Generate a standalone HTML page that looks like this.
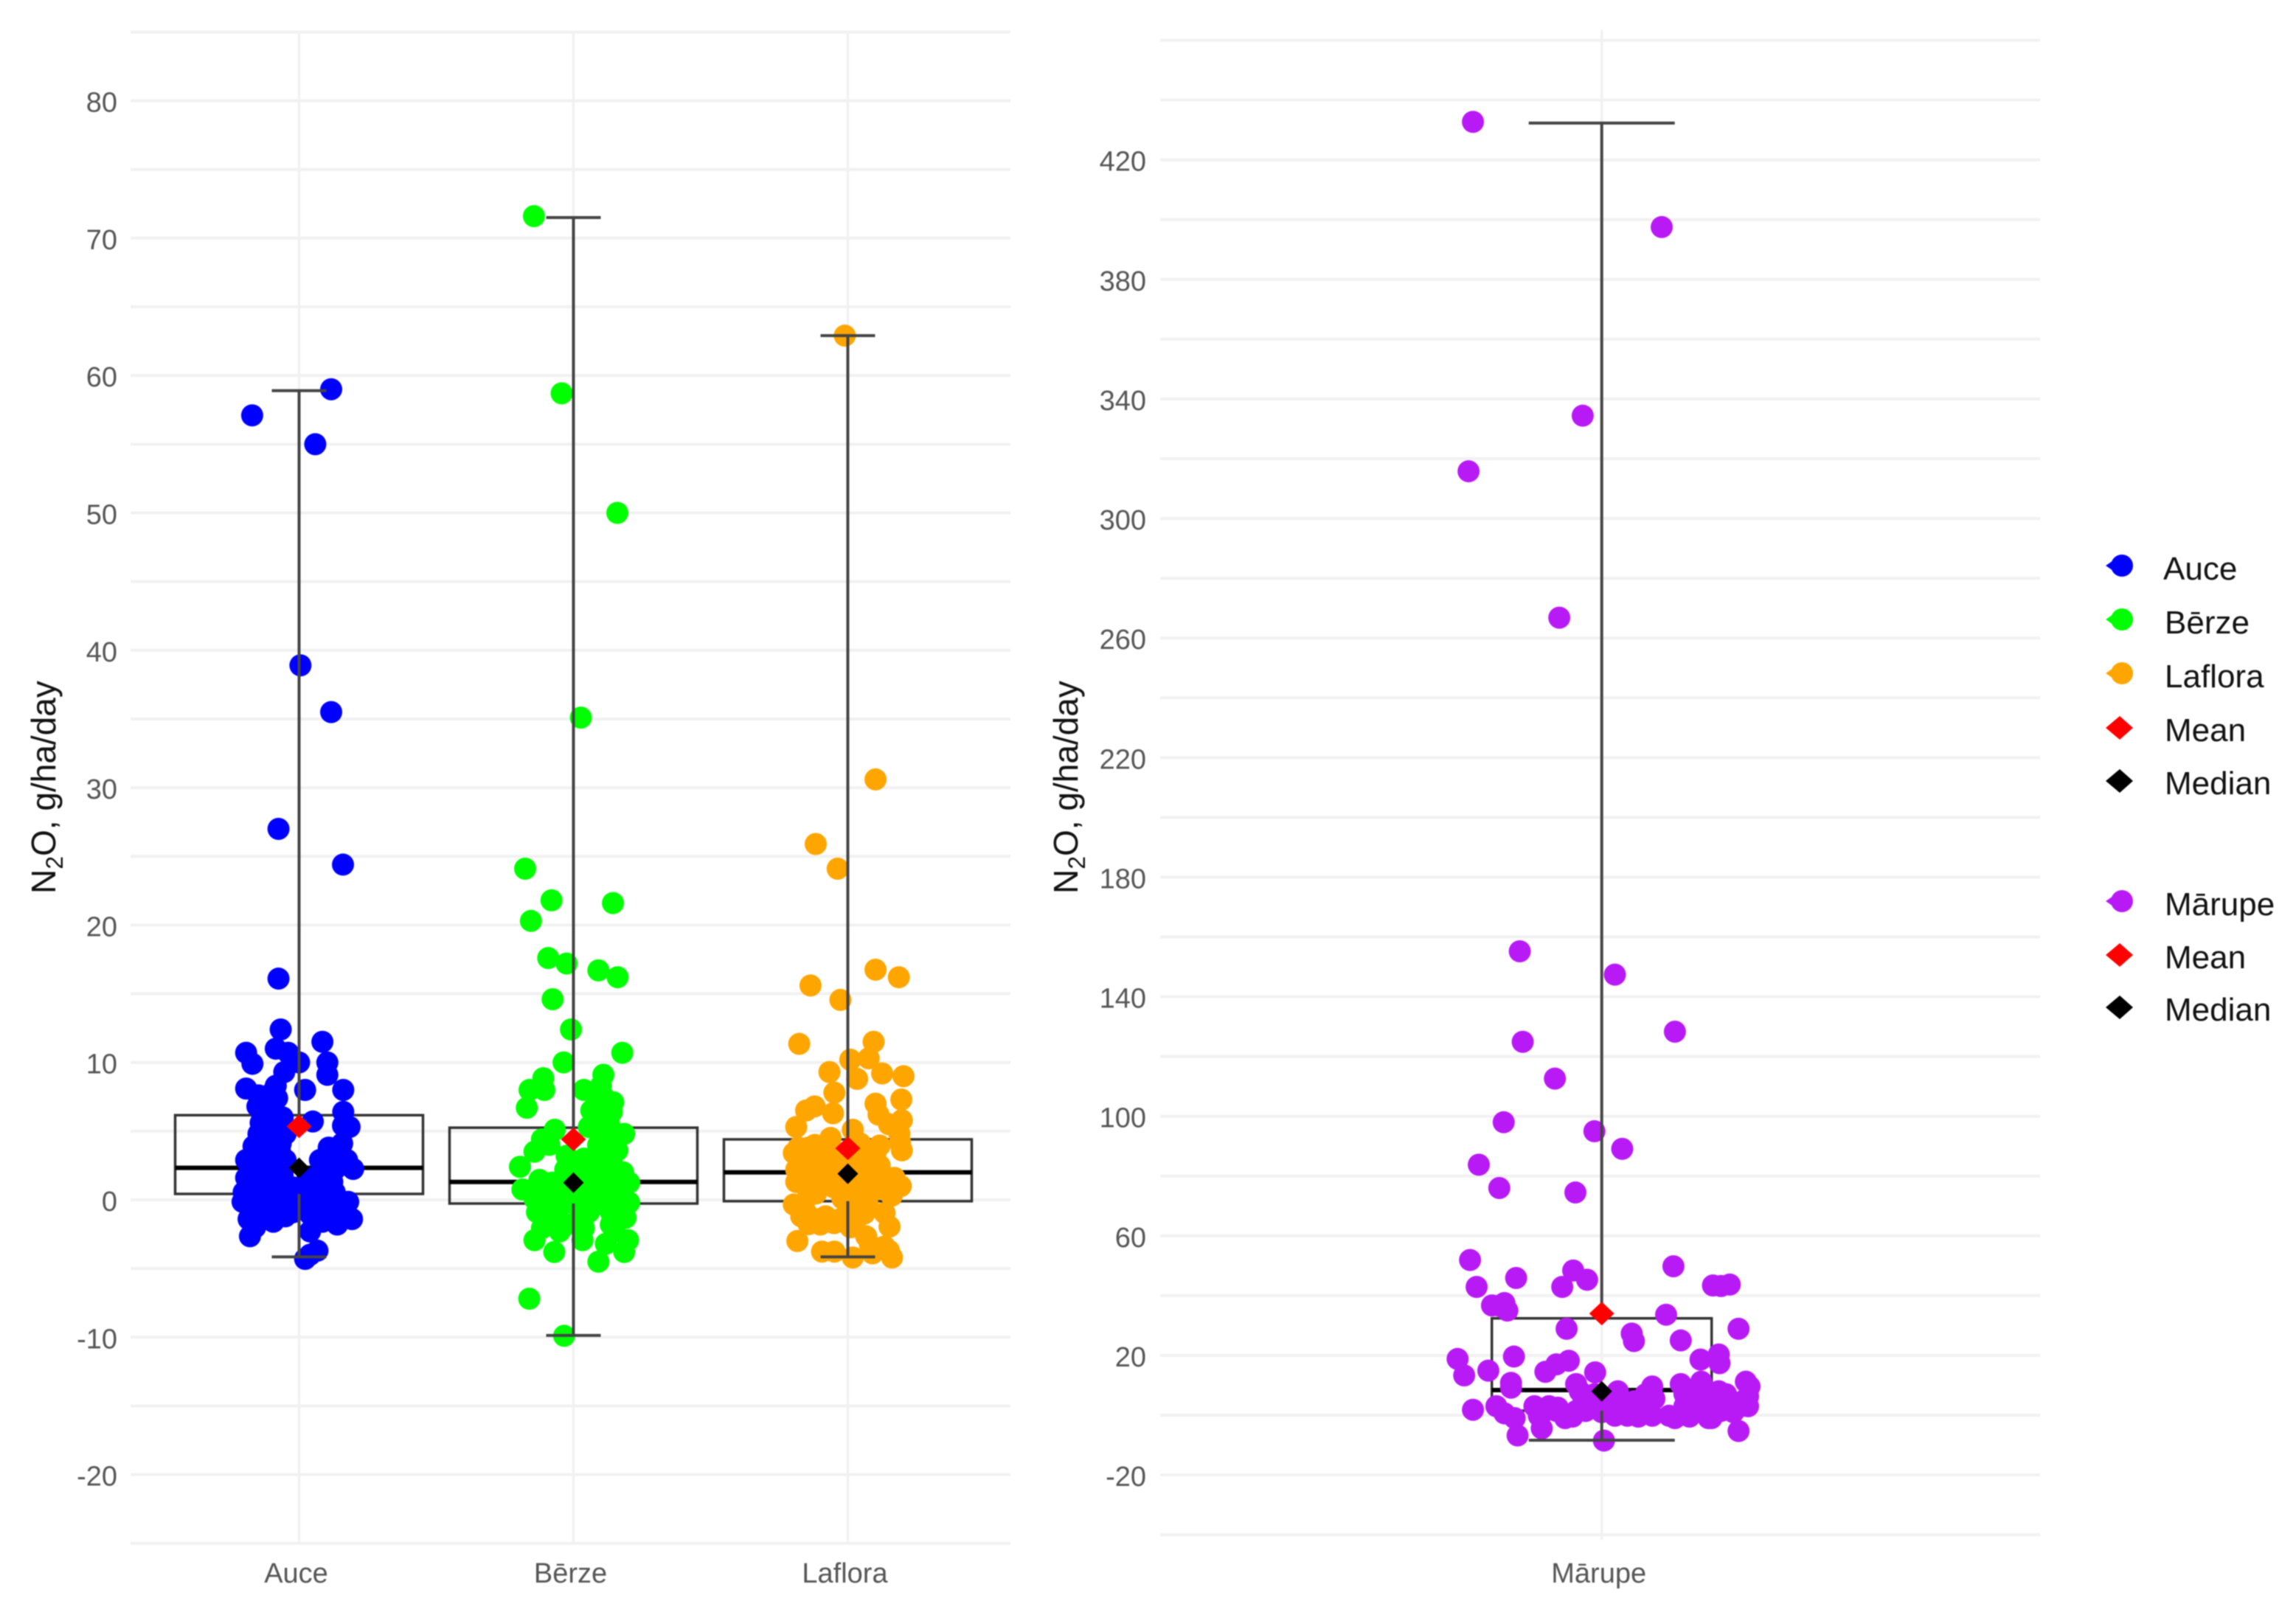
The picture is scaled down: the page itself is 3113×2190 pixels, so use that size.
<!DOCTYPE html>
<html lang="en">
<head>
<meta charset="utf-8">
<title>N2O flux by site</title>
<style>
  html, body { margin: 0; padding: 0; background: #fff; width: 3113px; height: 2190px; overflow: hidden; }
  #chart { display: block; filter: blur(0.9px); font-family: "Liberation Sans", sans-serif; }
  .tick { font-size: 38px; fill: #555; }
  .title { font-size: 46px; fill: #111; }
  .leg { font-size: 44px; fill: #111; }
</style>
</head>
<body>
<svg id="chart" xmlns="http://www.w3.org/2000/svg" width="3113" height="2190" viewBox="0 0 3113 2190">
  <rect width="3113" height="2190" fill="#fff"/>
  <g id="left-panel"></g>
  <g id="right-panel"></g>

  <text class="title" transform="translate(75,1212) rotate(-90)">N<tspan font-size="32" dy="10">2</tspan><tspan dy="-10">O, g/ha/day</tspan></text>
  <text class="title" transform="translate(1461,1212) rotate(-90)">N<tspan font-size="32" dy="10">2</tspan><tspan dy="-10">O, g/ha/day</tspan></text>

  <g>
    <g>
      <circle cx="2877" cy="767" r="15" fill="#0000ff"/>
      <polygon points="2855,767 2868,758 2868,776" fill="#0000ff"/>
      <text class="leg" x="2933" y="786">Auce</text>
    </g>
    <g>
      <circle cx="2877" cy="840" r="15" fill="#00ff00"/>
      <polygon points="2855,840 2868,831 2868,849" fill="#00ff00"/>
      <text class="leg" x="2935" y="859">Bērze</text>
    </g>
    <g>
      <circle cx="2877" cy="913" r="15" fill="#ffa500"/>
      <polygon points="2855,913 2868,904 2868,922" fill="#ffa500"/>
      <text class="leg" x="2935" y="932">Laflora</text>
    </g>
    <g>
      <polygon points="2855,987 2874,971 2892,987 2874,1003" fill="#ff0000"/>
      <text class="leg" x="2935" y="1005">Mean</text>
    </g>
    <g>
      <polygon points="2855,1059 2874,1043 2892,1059 2874,1075" fill="#000000"/>
      <text class="leg" x="2935" y="1077">Median</text>
    </g>
  </g>
  <g>
    <g>
      <circle cx="2877" cy="1222" r="15" fill="#b81af5"/>
      <polygon points="2855,1222 2868,1213 2868,1231" fill="#b81af5"/>
      <text class="leg" x="2935" y="1241">Mārupe</text>
    </g>
    <g>
      <polygon points="2855,1295 2874,1279 2892,1295 2874,1311" fill="#ff0000"/>
      <text class="leg" x="2935" y="1313">Mean</text>
    </g>
    <g>
      <polygon points="2855,1366 2874,1350 2892,1366 2874,1382" fill="#000000"/>
      <text class="leg" x="2935" y="1384">Median</text>
    </g>
  </g>
</svg>

<script>
// ---- Left panel summary data ----
const leftCategories = ['Auce', 'Bērze', 'Laflora'];
const leftColors = ['#0000ff', '#00ff00', '#ffa500'];
const leftQ1 = [0.43, -0.27, -0.1];
const leftQ3 = [6.16, 5.25, 4.4];
const leftMedianLine = [2.33, 1.3, 2.0];
const leftMin = [-4.15, -9.87, -4.15];
const leftMax = [58.9, 71.5, 62.9];
const leftMean = [5.35, 4.4, 3.75];
const leftMedian = [2.33, 1.25, 1.9];
const leftMajorTicks = [-20, -10, 0, 10, 20, 30, 40, 50, 60, 70, 80];
const leftGridValues = [-25, -20, -15, -10, -5, 0, 5, 10, 15, 20, 25, 30, 35, 40, 45, 50, 55, 60, 65, 70, 75, 80, 85];

// ---- Auce jittered observations (jitter in category units, value in g/ha/day) ----
const auceJitter = [
  .117,-.171,.059,.005,.117,-.075,.16,-.075,
  -.067,.085,-.193,-.17,-.085,-.04,0,.103,.103,-.054,
  -.193,.022,.161,-.094,-.12,-.148,-.085,.161,-.134,.05,
  .184,-.152,-.103,-.148,-.094,-.049,.157,.108,-.166,-.112,
  -.067,-.193,-.139,-.094,-.049,.197,.175,.076,.112,-.193,
  -.148,-.094,.031,.076,.121,-.202,-.148,-.094,-.022,.022,
  .076,.13,-.206,-.157,-.085,-.022,.04,.094,.148,.179,
  -.184,-.13,-.094,.193,.139,.04,.085,-.179,.022,.067,.04,
  -.17,-.12,-.07,-.17,-.12,-.06,-.17,-.12,-.06,-.05,-.15,-.16,
  .04,.09,.13,.1,.15,.13,.05,.09,.17,.01,-.11,-.12,-.14,-.06,-.1,
  -.08,.16
];
const auceValues = [
  59,57.1,55,38.9,35.5,27,24.4,16.1,
  12.4,11.5,10.7,9.9,11,10.7,10,10,9.1,9.3,
  8.1,8,8,7.9,7.2,7.6,8.3,6.4,6.1,5.7,
  5.3,6.8,7,4.8,4.8,4.8,4.1,3.8,3.9,3.9,
  4.1,2.9,3.2,2.9,2.9,2.25,2.9,2.9,3.05,1.6,
  2,1.6,1.6,1.6,1.3,.55,.7,.55,.9,0,
  .4,.55,-.15,-.35,-.35,-.9,-1.05,-.7,-.35,-.15,
  -1.4,-.9,-1.6,-1.4,-1.8,-2.3,-1.6,-2.65,-4.3,-3.7,-4,
  3.1,2.4,3.6,1.2,1,1.8,-.2,.2,.2,-1.2,-1.6,-2,
  .4,1.9,2.2,-.2,-1,-1.2,-.4,-1.4,-.9,-.3,5.5,6.4,5.6,6,6.6,
  7.4,5.4
];

// ---- Bērze jittered observations ----
const berzeJitter = [
  -.144,-.043,.16,.027,-.176,-.08,.144,-.155,-.092,-.025,.091,.161,-.076,
  -.009,.178,-.036,.109,-.11,-.106,-.16,-.17,.038,.1,
  .145,.109,.065,.118,.1,.056,.185,-.068,-.115,-.142,
  -.088,-.195,.118,.154,.1,-.025,.038,.181,.136,.082,
  .203,-.186,-.124,-.079,-.142,-.097,-.043,.011,.065,.118,
  .172,.203,-.133,-.079,-.025,.029,.056,.136,.19,.136,
  .038,-.115,-.142,.033,-.07,.118,.199,.185,.091,-.161,-.034,
  -.12,-.07,-.02,.03,.08,.13,.17,.14,.09,.04,-.03,
  -.1,-.05,.02,.09,.14,.17,.15,-.09,-.05,.16,.15,
  .09,.13,.08,.14,.09,.06,.12,.16,.02
];
const berzeValues = [
  71.6,58.7,50,35.1,24.1,21.8,21.6,20.3,17.6,17.2,16.7,16.2,14.6,
  12.4,10.7,10,9.1,8.85,8,8,6.7,8,8.3,
  7.1,7.5,6.5,6.3,5.3,5.3,4.8,5.1,4.4,3.5,
  4,2.4,4.2,3.6,3.2,3.2,3,2,2.2,2,
  1.25,.75,1.45,1.25,.08,.27,.08,.47,.47,.66,
  .47,-.2,-.9,-1.1,-1.8,-1.1,-.9,-.9,-1.3,-1.8,
  -2.07,-2.07,-2.94,-2.94,-3.8,-3.2,-2.94,-3.8,-4.5,-7.2,-9.9,
  .9,.7,.9,1.5,1,1.1,1.5,3,2.9,2.2,2.2,
  .2,-.5,-.6,-.3,-.1,-.7,1.2,-1.8,-2.3,-1.2,-2.3,
  4,5.5,6.5,6.4,7.3,3,3.8,3.6,-1.8
];

// ---- Laflora jittered observations ----
const lafloraJitter = [
  -.011,.101,-.117,-.037,.101,.186,-.136,-.027,.094,-.177,
  .076,.009,-.067,.125,.203,.034,-.049,.195,.101,.112,
  -.121,-.152,-.054,.197,-.188,.018,.188,-.063,.116,.197,
  .045,-.197,-.143,-.099,-.054,-.188,-.134,-.081,-.036,.063,
  .116,-.188,-.134,-.081,-.009,.045,.108,.17,.193,-.116,
  -.009,.045,.099,.152,-.197,.027,.072,-.17,.134,-.027,
  .027,-.081,-.143,-.108,.152,.067,-.184,.134,.081,-.094,
  -.049,.018,.09,.161,
  -.16,-.11,-.07,-.17,-.12,-.07,-.03,-.15,-.1,-.05,-.18,.02,
  .03,.07,.1,.06,.13,.16,-.02,0,.04,.01,.05,-.05,-.1,-.15,
  -.16,.06,-.12,.15,.19,.11,.15
];
const lafloraValues = [
  62.9,30.6,25.9,24.1,16.75,16.2,15.6,14.55,11.5,11.35,
  10.3,10.2,9.3,9.2,9,8.8,7.8,7.3,7,6.2,
  6.8,6.5,6.3,5.8,5.3,5.1,4.8,4.5,3.95,3.6,
  4.1,3.4,3.8,3.8,3.6,2.2,2.7,2.5,2.5,2.9,
  2.5,1.3,1.45,1.45,1.45,1.45,1.3,1.6,1,.46,
  .4,.4,.73,.9,-.34,-.34,-.34,-1.2,-.96,-1.4,
  -1.4,-1.2,-1.77,-1.4,-1.95,-2.66,-3,-3.4,-3.3,-3.77,
  -3.77,-4.2,-3.9,-4.2,
  3,3.2,3,1.8,2,1.8,1.4,.9,.9,.9,3.8,1,
  2.5,1.8,3.2,3.5,1.5,.3,.1,-.8,-1.2,-2,-.9,-1.7,-1.8,-1,
  -.3,-1,4,5.5,4.2,-3.6,-3.7
];

// ---- Right panel data ----
const rightCategories = ['Mārupe'];
const rightColors = ['#b81af5'];
const rightQ1 = [1.5];
const rightQ3 = [32.4];
const rightMedianLine = [8.4];
const rightMin = [-8.4];
const rightMax = [432.3];
const rightMean = [34];
const rightMedian = [8];
const rightMajorTicks = [-20, 20, 60, 100, 140, 180, 220, 260, 300, 340, 380, 420];
const rightGridValues = [-40, -20, 0, 20, 40, 60, 80, 100, 120, 140, 160, 180, 200, 220, 240, 260, 280, 300, 320, 340, 360, 380, 400, 420, 440, 460];

const marupeJitter = [
  -.176,.082,-.026,-.182,-.058,-.112,.018,.1,-.108,-.064,
  -.134,-.01,.028,-.168,-.14,-.036,
  -.18,-.171,-.117,-.039,-.02,-.054,.098,.152,.175,.163,
  -.15,-.133,-.129,-.14,.088,-.048,.041,.044,.108,.187,
  -.197,-.12,-.045,-.062,-.077,-.188,-.155,-.009,-.124,-.124,
  .135,.16,.161,.197,.202,-.035,.022,.069,.108,.136,
  -.176,-.144,-.115,-.082,.003,.187,
  -.133,-.119,-.092,-.086,-.072,-.062,-.05,-.035,-.022,-.008,
  .018,.035,.045,.055,.069,.072,.092,.113,.126,.146,
  .133,.156,.176,.193,.163,.2,.113,.136,.018,-.025,
  -.08,-.06,-.04,-.02,0,.01,.03,.05,.06,.1,.12,.14,
  .15,.17,.18,.19,.16,.15,.13,.14,.17,.2,.12,.015,-.01,-.03,.06
];
const marupeValues = [
  432.7,397.5,334.4,315.8,266.8,155.2,147.4,128.3,124.9,112.6,
  98,95,89.1,83.8,76,74.5,
  51.9,42.9,45.9,48.4,45.3,42.9,49.8,43.4,43.7,43.2,
  36.7,37.5,35,36.6,33.6,28.9,27.3,24.8,25,28.9,
  18.8,19.6,18.2,17,14.5,13.3,14.9,14.3,10.8,9.2,
  18.6,20.3,17.4,11.2,9.6,10.4,8,9.6,10.4,11.2,
  1.8,3,-6.8,-4.4,-8.5,-5.3,
  .6,-1,3,-.2,3,1.4,-1,1.4,1.4,2.2,
  -.2,-.2,4.7,1.4,-.2,5.5,-.2,3,4.7,-1,
  1.4,4.7,3,4.7,1.4,6.3,7.1,6.3,4.7,5.5,
  1,2.5,-.5,3.5,1,4,1.5,-.5,4,-1,1,3,
  .5,5,1,3,8,-1,8,9,7,3,-.5,6,7,8,7
];

// ---- Axis functions ----
const SVGNS = 'http://www.w3.org/2000/svg';
const leftY = v => 1627 - 18.63 * v;
const leftX = c => 405.5 + 372 * c;
const rightY = v => 1919 - 4.053 * v;
const rightX = c => 2171.7 + 992 * c;

function make(tag, attrs, parent) {
  const el = document.createElementNS(SVGNS, tag);
  for (const k in attrs) el.setAttribute(k, attrs[k]);
  parent.appendChild(el);
  return el;
}

function drawPanel(cfg) {
  const g = document.getElementById(cfg.id);

  cfg.gridValues.forEach(v => {
    const el = make('line', { x1: cfg.gridLeft, x2: cfg.gridRight, y1: cfg.y(v), y2: cfg.y(v), stroke: '#f1f1f1', 'stroke-width': 4 }, g);
    
    
  });

  cfg.categories.forEach((name, c) => {
    const el = make('line', { x1: cfg.x(c), x2: cfg.x(c), y1: cfg.gridTop, y2: cfg.gridBottom, stroke: '#f1f1f1', 'stroke-width': 3.5 }, g);
    
    
  });

  cfg.majorTicks.forEach(v => {
    const el = make('text', { x: cfg.tickX, y: cfg.y(v) + 15, 'text-anchor': 'end', class: 'tick' }, g);
    el.textContent = String(v);
    
    
  });

  cfg.categories.forEach((name, c) => {
    const el = make('text', { x: cfg.x(c) - 4, y: 2146, 'text-anchor': 'middle', class: 'tick' }, g);
    el.textContent = name;
    
    
  });

  cfg.categories.forEach((name, c) => {
    const cx = cfg.x(c);

    // Box and median line, under the points
    const box = make('rect', {
      x: cx - cfg.boxHalf, y: cfg.y(cfg.q3[c]), width: cfg.boxHalf * 2,
      height: cfg.y(cfg.q1[c]) - cfg.y(cfg.q3[c]),
      fill: 'none', stroke: '#333', 'stroke-width': 3.5
    }, g);
    
    

    const med = make('line', { x1: cx - cfg.boxHalf, x2: cx + cfg.boxHalf, y1: cfg.y(cfg.medLine[c]), y2: cfg.y(cfg.medLine[c]), stroke: '#000', 'stroke-width': 6 }, g);
    
    

    // Jittered points
    const jit = cfg.jitter[c];
    const vals = cfg.values[c];
    vals.forEach((v, i) => {
      const p = make('circle', { cx: cfg.x(c + jit[i]), cy: cfg.y(v), r: 15, fill: cfg.colors[c] }, g);
      
      
    });

    // Whiskers and caps, over the points
    const wUp = make('line', { x1: cx, x2: cx, y1: cfg.y(cfg.max[c]), y2: cfg.y(cfg.q3[c]), stroke: '#444', 'stroke-width': 4 }, g);
    
    

    const wDown = make('line', { x1: cx, x2: cx, y1: cfg.y(cfg.q1[c]), y2: cfg.y(cfg.min[c]), stroke: '#444', 'stroke-width': 4 }, g);
    
    

    const capUp = make('line', { x1: cx - cfg.capHalf, x2: cx + cfg.capHalf, y1: cfg.y(cfg.max[c]), y2: cfg.y(cfg.max[c]), stroke: '#444', 'stroke-width': 4 }, g);
    
    

    const capDown = make('line', { x1: cx - cfg.capHalf, x2: cx + cfg.capHalf, y1: cfg.y(cfg.min[c]), y2: cfg.y(cfg.min[c]), stroke: '#444', 'stroke-width': 4 }, g);
    
    

    // Mean and median diamonds
    const my = cfg.y(cfg.mean[c]);
    const meanEl = make('polygon', { points: `${cx - 17},${my} ${cx},${my - 16} ${cx + 17},${my} ${cx},${my + 16}`, fill: '#ff0000' }, g);
    
    

    const dy = cfg.y(cfg.median[c]);
    const medEl = make('polygon', { points: `${cx - 14},${dy} ${cx},${dy - 14} ${cx + 14},${dy} ${cx},${dy + 14}`, fill: '#000000' }, g);
    
    
  });
}

drawPanel({
  id: 'left-panel', x: leftX, y: leftY,
  gridLeft: 177, gridRight: 1370, gridTop: 42, gridBottom: 2094, tickX: 159,
  boxHalf: 168, capHalf: 37,
  categories: leftCategories, colors: leftColors, gridValues: leftGridValues, majorTicks: leftMajorTicks,
  q1: leftQ1, q3: leftQ3, medLine: leftMedianLine, min: leftMin, max: leftMax, mean: leftMean, median: leftMedian,
  jitter: [auceJitter, berzeJitter, lafloraJitter],
  values: [auceValues, berzeValues, lafloraValues]
});

drawPanel({
  id: 'right-panel', x: rightX, y: rightY,
  gridLeft: 1573, gridRight: 2766, gridTop: 40, gridBottom: 2088, tickX: 1554,
  boxHalf: 149, capHalf: 99,
  categories: rightCategories, colors: rightColors, gridValues: rightGridValues, majorTicks: rightMajorTicks,
  q1: rightQ1, q3: rightQ3, medLine: rightMedianLine, min: rightMin, max: rightMax, mean: rightMean, median: rightMedian,
  jitter: [marupeJitter],
  values: [marupeValues]
});
</script>
</body>
</html>
